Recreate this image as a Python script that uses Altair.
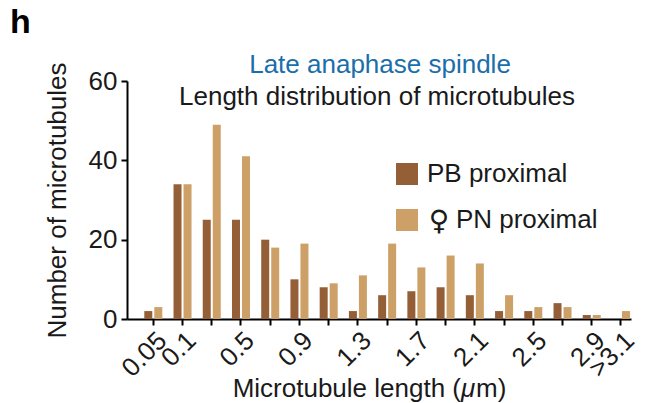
import altair as alt
import pandas as pd

categories = ["0.05", "0.1", "0.3", "0.5", "0.7", "0.9", "1.1", "1.3", "1.5",
              "1.7", "1.9", "2.1", "2.3", "2.5", "2.7", "2.9", ">3.1"]
pb_proximal = [2, 34, 25, 25, 20, 10, 8, 2, 6, 7, 8, 6, 2, 2, 4, 1, 0]
pn_proximal = [3, 34, 49, 41, 18, 19, 9, 11, 19, 13, 16, 14, 6, 3, 3, 1, 2]
shown_labels = ["0.05", "0.1", "0.5", "0.9", "1.3", "1.7", "2.1", "2.5", "2.9", ">3.1"]
series_names = ["PB proximal", "\u2640PN proximal"]
series_colors = ["#945f37", "#cca066"]
y_ticks = [0, 20, 40, 60]

rows = []
for name, vals in zip(series_names, [pb_proximal, pn_proximal]):
    for c, v in zip(categories, vals):
        rows.append({"bin": c, "series": name, "count": v})
df = pd.DataFrame(rows)

FONT = "Liberation Sans"
INK = "#1a1a1a"
label_js = "[" + ",".join("'" + s + "'" for s in shown_labels) + "]"

bars = alt.Chart(df).mark_bar().encode(
    x=alt.X(
        "bin:N", sort=categories,
        scale=alt.Scale(paddingInner=0.384, paddingOuter=0.313, align=0.945),
        axis=alt.Axis(
            title=None,
            labelAngle=-45, labelOverlap=False,
            labelExpr=f"indexof({label_js}, datum.label) >= 0 ? datum.label : ''",
            labelFontSize=26, labelPadding=2,
            tickSize=6, tickWidth=2, domainWidth=2,
        ),
    ),
    xOffset=alt.XOffset("series:N", sort=series_names,
                        scale=alt.Scale(paddingInner=0.2, paddingOuter=0)),
    y=alt.Y(
        "count:Q",
        scale=alt.Scale(domain=[0, 60], nice=False),
        axis=alt.Axis(
            title="Number of microtubules", values=y_ticks, grid=False,
            labelFontSize=26, labelPadding=4,
            tickSize=6, tickWidth=2, domainWidth=2,
            titleFontSize=26, titleX=-62, titleY=119,
            titleAlign="center", titleBaseline="alphabetic", titleAngle=270,
        ),
    ),
    color=alt.Color(
        "series:N", sort=series_names,
        scale=alt.Scale(domain=series_names, range=series_colors),
        legend=alt.Legend(
            title=None, orient="none", legendX=267, legendY=80,
            symbolType="square", symbolSize=484, symbolStrokeWidth=0,
            labelFontSize=26, labelOffset=7, rowPadding=20, labelLimit=400,
            labelFont=FONT, labelColor=INK,
            labelExpr="replace(datum.label, '\u2640', '\u200b\u00a0\u00a0\u00a0\u00a0')",
        ),
    ),
)

one = pd.DataFrame({"k": [0]})


def txt(s, x, y, size=26, color=INK, align="center", style="normal", weight="normal", font=FONT):
    return alt.Chart(one).mark_text(
        text=s, font=font, fontSize=size, color=color, align=align,
        baseline="alphabetic", fontStyle=style, fontWeight=weight,
    ).encode(x=alt.value(x), y=alt.value(y))


layers = [
    bars,
    txt("Late anaphase spindle", 253, -8, color="#1a6eaa"),
    txt("Length distribution of microtubules", 250, 24),
    txt("h", -117, -48, size=34, color="#000000", align="left", weight="bold"),
    # x-axis title with italic mu
    txt("Microtubule length (", 334, 316, align="right"),
    txt("\u03bc", 334, 316, align="left", style="italic"),
    txt("m)", 349, 316, align="left"),
    # female sign in legend
    txt("\u2640", 312, 149, size=28, font="DejaVu Sans"),
]

chart = alt.layer(*layers).properties(
    width=504, height=238,
    autosize=alt.AutoSizeParams(type="none"),
    padding={"left": 127, "top": 81, "right": 21, "bottom": 84},
).configure_view(stroke=None).configure_axis(
    labelFont=FONT, titleFont=FONT, labelColor=INK, titleColor=INK,
    titleFontWeight="normal", domainColor="#000000", tickColor="#000000",
)

chart.save("out.html", embed_options={"renderer": "svg", "actions": False})
